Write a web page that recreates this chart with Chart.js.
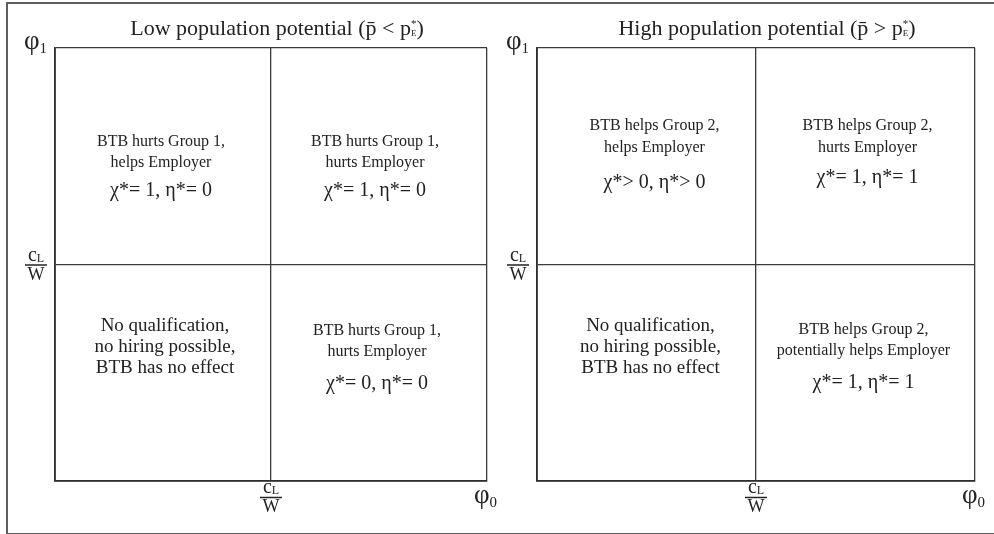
<!DOCTYPE html>
<html><head><meta charset="utf-8">
<script src="https://cdn.jsdelivr.net/npm/chart.js@4/dist/chart.umd.min.js"></script>
<style>
html,body{margin:0;padding:0;background:#fff;width:994px;height:534px;overflow:hidden}
#frame{position:absolute;left:6px;top:2px;width:1000px;height:529px;border:2px solid #5e5e5e;border-right:none;box-sizing:content-box}
.c{position:absolute;top:0;height:534px;width:497px}
</style></head><body>
<div id="frame"></div>
<div class="c" style="left:0"><canvas id="c0"></canvas></div>
<div class="c" style="left:497px"><canvas id="c1"></canvas></div>
<script>
// ---- data ----
const panelTitles = ["Low population potential", "High population potential"];
const panelRelations = ["<", ">"];
const quadrantX = [0.5, 1.5, 0.5, 1.5];   // phi0 position of each region
const quadrantY = [1.5, 1.5, 0.5, 0.5];   // phi1 position of each region
const threshold = 1;                      // c_L / w
const axisMin = 0;
const axisMax = 2;
const effectLines = [
  [["BTB hurts Group 1,", "helps Employer"],
   ["BTB hurts Group 1,", "hurts Employer"],
   ["No qualification,", "no hiring possible,", "BTB has no effect"],
   ["BTB hurts Group 1,", "hurts Employer"]],
  [["BTB helps Group 2,", "helps Employer"],
   ["BTB helps Group 2,", "hurts Employer"],
   ["No qualification,", "no hiring possible,", "BTB has no effect"],
   ["BTB helps Group 2,", "potentially helps Employer"]]
];
const chiValues = [["= 1", "= 1", null, "= 0"], ["> 0", "= 1", null, "= 1"]];
const etaValues = [["= 0", "= 0", null, "= 0"], ["> 0", "= 1", null, "= 1"]];

// ---- styles / layout ----
const SERIF = '"Liberation Serif","Times New Roman",serif';
const INK = '#222';
const panelLayout = [
  {padding: {left: 55, top: 48, right: 10, bottom: 53}, titleDx: 6,
   lines: [[-10, 11], [-10, 11], [-41.5, -20.5, 0.5], [-37.5, -16.5]],
   formula: [40, 40, null, 16.5], textDx: [-2, -4, 2, -2]},
  {padding: {left: 40, top: 48, right: 19, bottom: 53}, titleDx: 11,
   lines: [[-26, -4], [-26, -4], [-41.5, -20.5, 0.5], [-38.5, -17.5]],
   formula: [32, 27, null, 15.5], textDx: [8, 2, 4, -2]}
];
function font(s) { return s + 'px ' + SERIF; }
function drawRich(ctx, segs, x, y, align) {
  const ws = segs.map(g => { ctx.font = font(g.s); return ctx.measureText(g.t).width; });
  const xs = []; let cur = 0, lastW = 0;
  segs.forEach((g, k) => {
    if (g.stack) { xs.push(cur - lastW); const nw = Math.max(lastW, ws[k]); cur = cur - lastW + nw; lastW = nw; }
    else { xs.push(cur); cur += ws[k]; lastW = ws[k]; }
  });
  const start = align === 'center' ? x - cur / 2 : align === 'right' ? x - cur : x;
  ctx.textAlign = 'left'; ctx.textBaseline = 'alphabetic';
  segs.forEach((g, k) => { ctx.font = font(g.s); ctx.fillText(g.t, start + xs[k], y + (g.dy || 0)); });
  return cur;
}
function drawFraction(ctx, cx, lineY) {
  drawRich(ctx, [{t: 'c', s: 20}, {t: 'L', s: 12, dy: 1}], cx, lineY - 4, 'center');
  ctx.beginPath(); ctx.lineWidth = 1.5; ctx.strokeStyle = INK;
  ctx.moveTo(cx - 11, lineY + 0.5); ctx.lineTo(cx + 11, lineY + 0.5); ctx.stroke();
  drawRich(ctx, [{t: 'W', s: 18}], cx, lineY + 15, 'center');
}

const labelPlugin = {
  id: 'labels',
  afterDraw(chart) {
    const p = chart.options.plugins.labels.panel;
    const L = panelLayout[p];
    const ctx = chart.ctx, a = chart.chartArea;
    const xs = chart.scales.x, ys = chart.scales.y;
    ctx.save(); ctx.fillStyle = INK;
    // title
    drawRich(ctx, [
      {t: panelTitles[p] + ' (', s: 22},
      {t: 'p\u0304', s: 22},
      {t: ' ' + panelRelations[p] + ' p', s: 22},
      {t: '*', s: 11, dy: -8},
      {t: 'E', s: 9, dy: 1, stack: true},
      {t: ')', s: 22}
    ], (a.left + a.right) / 2 + L.titleDx, 35, 'center');
    // axis labels
    drawRich(ctx, [{t: '\u03c6', s: 27}, {t: '1', s: 15, dy: 4}], a.left - 8, a.top + 1, 'right');
    drawRich(ctx, [{t: '\u03c6', s: 27}, {t: '0', s: 15, dy: 4}], a.right - 13, a.bottom + 22, 'left');
    drawFraction(ctx, a.left - 19, ys.getPixelForValue(threshold));
    drawFraction(ctx, xs.getPixelForValue(threshold), a.bottom + 16);
    // quadrant texts
    for (let q = 0; q < 4; q++) {
      const cx = xs.getPixelForValue(quadrantX[q]) + L.textDx[q];
      const cy = ys.getPixelForValue(quadrantY[q]);
      const lines = effectLines[p][q];
      const sz = lines.length === 3 ? 19 : 16;
      lines.forEach((t, i) => drawRich(ctx, [{t, s: sz}], cx, cy + L.lines[q][i], 'center'));
      if (chiValues[p][q]) {
        drawRich(ctx, [{t: '\u03c7*' + chiValues[p][q] + ', \u03b7*' + etaValues[p][q], s: 20}],
          cx, cy + L.formula[q], 'center');
      }
    }
    ctx.restore();
  }
};

function makeChart(id, p) {
  const axis = {
    type: 'linear', min: axisMin, max: axisMax,
    ticks: {display: false, stepSize: threshold},
    grid: {color: '#3a3a3a', lineWidth: 1.3, drawTicks: false},
    border: {display: true, color: '#2e2e2e', width: 1.8}
  };
  return new Chart(document.getElementById(id), {
    type: 'scatter',
    data: {datasets: [{data: quadrantX.map((x, i) => ({x, y: quadrantY[i]})), pointRadius: 0}]},
    options: {
      responsive: true, maintainAspectRatio: false, animation: false,
      layout: {padding: panelLayout[p].padding},
      scales: {x: axis, y: axis},
      plugins: {legend: {display: false}, tooltip: {enabled: false}, labels: {panel: p}}
    },
    plugins: [labelPlugin]
  });
}
makeChart('c0', 0);
makeChart('c1', 1);
</script>
</body></html>
